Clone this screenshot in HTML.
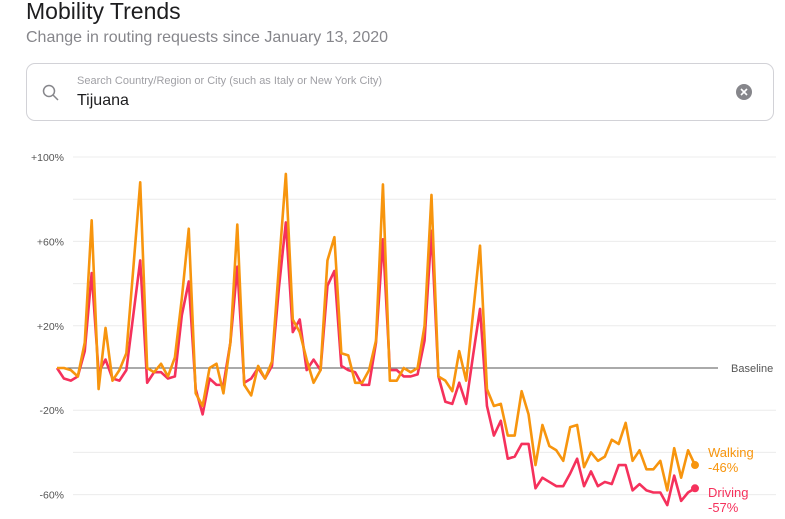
<!DOCTYPE html>
<html><head><meta charset="utf-8"><style>
body{margin:0;width:785px;height:519px;overflow:hidden;background:#fff;font-family:"Liberation Sans",sans-serif;}
.title{position:absolute;left:26px;top:-2px;font-size:23px;color:#1d1d1f;}
.sub{position:absolute;left:26px;top:29px;font-size:16px;color:#86868b;}
.search{position:absolute;left:26px;top:63px;width:748px;height:58px;border:1px solid #d2d2d7;border-radius:9px;box-sizing:border-box;}
.ph{position:absolute;left:50px;top:11px;font-size:11px;color:#a0a0a5;}
.val{position:absolute;left:50px;top:28px;font-size:16px;color:#1d1d1f;}
svg{position:absolute;left:0;top:0;}
</style></head><body>
<div class="title">Mobility Trends</div>
<div class="sub">Change in routing requests since January 13, 2020</div>
<div class="search">
<svg width="20" height="20" style="left:14px;top:19px"><circle cx="8" cy="8" r="5.5" fill="none" stroke="#86868b" stroke-width="1.5"/><line x1="12" y1="12" x2="17" y2="17" stroke="#86868b" stroke-width="1.5"/></svg>
<div class="ph">Search Country/Region or City (such as Italy or New York City)</div>
<div class="val">Tijuana</div>
<svg width="18" height="18" style="left:708px;top:19px"><circle cx="9" cy="9" r="8" fill="#86868b"/><path d="M6 6L12 12M12 6L6 12" stroke="#fff" stroke-width="1.6"/></svg>
</div>
<svg id="chart" width="785" height="519"></svg>
<script>
const walking=[0,0,-1,-4,12,70,-10,19,-6,-1,7,47,88,0,-2,2,-4,5,33,66,-12,-18,0,2,-12,12,68,-8,-13,1,-5,3,48,92,23,17,4,-7,-1,51,62,7,6,-7,-7,-1,13,87,-6,-6,0,-2,0,20,82,-4,-6,-11,8,-6,26,58,-10,-18,-17,-32,-32,-11,-22,-46,-27,-37,-39,-44,-28,-27,-47,-40,-44,-42,-34,-36,-26,-44,-39,-48,-48,-44,-58,-38,-52,-39,-46];
const driving=[0,-5,-6,-4,8,45,-2,4,-5,-6,-1,25,51,-7,-2,-2,-5,-4,25,41,-10,-22,-5,-8,-8,12,48,-7,-5,0,-5,1,38,69,17,23,-1,4,-1,39,46,1,-1,-2,-8,-8,12,61,-1,-1,-4,-4,-3,13,65,-4,-16,-17,-7,-17,6,28,-18,-32,-25,-43,-42,-36,-36,-57,-52,-54,-56,-56,-50,-43,-56,-49,-56,-54,-55,-46,-46,-58,-55,-58,-59,-59,-65,-51,-63,-59,-57];
const gridVals=[100,80,60,40,20,-20,-40,-60];
const tickLabels=[100,60,20,-20,-60];
const NS="http://www.w3.org/2000/svg";
const svg=document.getElementById('chart');
const x=i=>57+i*(638/(walking.length-1));
const y=v=>368-v*2.11;
function mk(t,a){const e=document.createElementNS(NS,t);for(const k in a)e.setAttribute(k,a[k]);svg.appendChild(e);return e;}
gridVals.forEach(v=>{const l=mk('line',{x1:73,x2:776,y1:y(v),y2:y(v),stroke:'#ececec','stroke-width':1});

});
tickLabels.forEach(v=>{const t=mk('text',{x:64,y:y(v)+4,'text-anchor':'end','font-size':10.5,fill:'#555','font-family':'Liberation Sans'});t.textContent=(v>0?'+':'')+v+'%';

});
const b=mk('line',{x1:57,x2:718,y1:y(0),y2:y(0),stroke:'#555','stroke-width':1});


const bt=mk('text',{x:731,y:y(0)+4,'font-size':11,fill:'#555','font-family':'Liberation Sans'});bt.textContent='Baseline';


function series(data,color,name,label,ly){
 const p=mk('polyline',{points:data.map((v,i)=>x(i)+','+y(v)).join(' '),fill:'none',stroke:color,'stroke-width':2.6,'stroke-linejoin':'round'});
 
 
 const n=data.length-1;
 const c=mk('circle',{cx:x(n),cy:y(data[n]),r:4,fill:color});
 
 
 const t1=mk('text',{x:708,y:ly,'font-size':13,fill:color,'font-family':'Liberation Sans'});t1.textContent=label;
 
 
 const t2=mk('text',{x:708,y:ly+15,'font-size':13,fill:color,'font-family':'Liberation Sans'});t2.textContent=data[n]+'%';
 
 
}
series(driving,'#f5315c','driving','Driving',497);
series(walking,'#f7950e','walking','Walking',457);
</script>
</body></html>
